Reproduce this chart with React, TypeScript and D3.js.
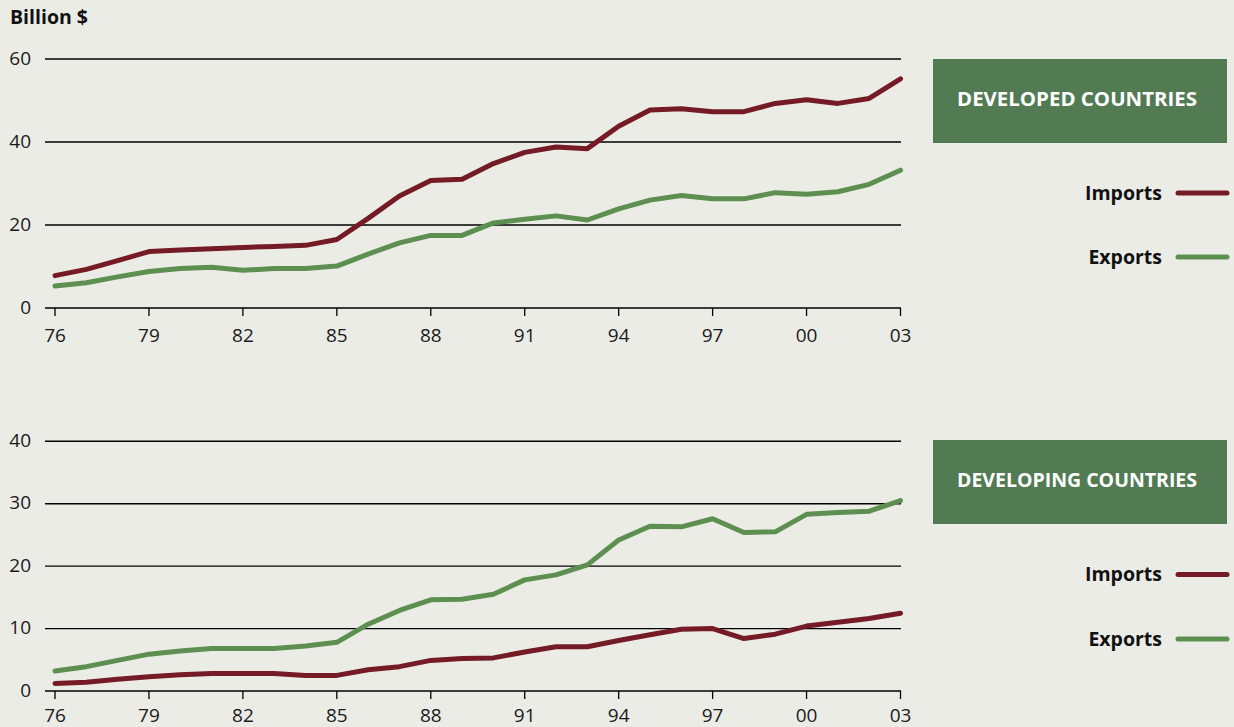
import React from "react";
import * as d3 from "d3";

const years = [1976,1977,1978,1979,1980,1981,1982,1983,1984,1985,1986,1987,1988,1989,1990,1991,1992,1993,1994,1995,1996,1997,1998,1999,2000,2001,2002,2003];
const xTickYears = [1976,1979,1982,1985,1988,1991,1994,1997,2000,2003];

const devImports = [7.8,9.3,11.4,13.6,14.0,14.3,14.6,14.8,15.1,16.5,21.6,27.0,30.7,31.0,34.8,37.5,38.8,38.4,43.8,47.7,48.0,47.3,47.3,49.3,50.2,49.3,50.5,55.2];
const devExports = [5.3,6.1,7.5,8.8,9.5,9.8,9.1,9.5,9.5,10.1,13.0,15.7,17.5,17.5,20.5,21.4,22.2,21.2,23.9,26.0,27.1,26.3,26.3,27.8,27.4,28.0,29.8,33.2];
const dvgImports = [1.2,1.4,1.9,2.3,2.6,2.8,2.8,2.8,2.5,2.5,3.4,3.9,4.9,5.2,5.3,6.25,7.1,7.1,8.1,9.0,9.9,10.0,8.4,9.1,10.4,11.0,11.6,12.45];
const dvgExports = [3.2,3.9,4.9,5.9,6.4,6.8,6.8,6.8,7.2,7.8,10.7,12.9,14.6,14.7,15.5,17.8,18.6,20.2,24.2,26.4,26.3,27.6,25.4,25.5,28.3,28.6,28.8,30.5];

const devTicks = [0,20,40,60];
const dvgTicks = [0,10,20,30,40];

const IMP = "#751b25";
const EXP = "#5d8f50";
const BOX = "#527b54";
const BG = "#ececE7";
const FONT = "'Open Sans', 'Noto Sans', sans-serif";

const fmtYear = (y: number) => String(y % 100).padStart(2, "0");

type PanelProps = {
  top: number;
  bottom: number;
  yMax: number;
  ticks: number[];
  imports: number[];
  exports: number[];
  title: string;
  boxTop: number;
  boxBottom: number;
  impY: number;
  expY: number;
  labelY: number;
};

function Panel(p: PanelProps) {
  const x = d3.scaleLinear().domain([1976, 2003]).range([55, 900.5]);
  const y = d3.scaleLinear().domain([0, p.yMax]).range([p.bottom, p.top]);
  const line = d3.line<number>().x((_, i) => x(years[i])).y((d) => y(d));
  return (
    <g>
      {p.ticks.map((t) => (
        <g key={t}>
          <line x1={45} x2={901} y1={y(t)} y2={y(t)} stroke="#000" strokeWidth={1.4} />
          <text x={31} y={y(t) - 1} dy="0.35em" textAnchor="end" fontSize={19} fill="#1a1a1a" fontFamily={FONT}>{t}</text>
        </g>
      ))}
      {xTickYears.map((yr) => (
        <g key={yr}>
          <line x1={x(yr)} x2={x(yr)} y1={p.bottom} y2={p.bottom + 8} stroke="#000" strokeWidth={1.3} />
          <text x={x(yr)} y={p.labelY} dy="0.35em" textAnchor="middle" fontSize={19} fill="#1a1a1a" fontFamily={FONT}>{fmtYear(yr)}</text>
        </g>
      ))}
      <path d={line(p.exports) || ""} fill="none" stroke={EXP} strokeWidth={5} strokeLinejoin="round" strokeLinecap="round" />
      <path d={line(p.imports) || ""} fill="none" stroke={IMP} strokeWidth={5} strokeLinejoin="round" strokeLinecap="round" />
      <rect x={933} y={p.boxTop} width={294} height={p.boxBottom - p.boxTop} fill={BOX} />
      <text x={1077} y={(p.boxTop + p.boxBottom) / 2 - 2} dy="0.35em" textAnchor="middle" fontSize={19.5} fontWeight="bold" fill="#fff" fontFamily={FONT} textLength={240} lengthAdjust="spacingAndGlyphs">{p.title}</text>
      <text x={1162} y={p.impY} dy="0.35em" textAnchor="end" fontSize={19.5} fontWeight="bold" fill="#111" fontFamily={FONT}>Imports</text>
      <line x1={1178} x2={1227} y1={p.impY} y2={p.impY} stroke={IMP} strokeWidth={5} strokeLinecap="round" />
      <text x={1162} y={p.expY} dy="0.35em" textAnchor="end" fontSize={19.5} fontWeight="bold" fill="#111" fontFamily={FONT}>Exports</text>
      <line x1={1178} x2={1227} y1={p.expY} y2={p.expY} stroke={EXP} strokeWidth={5} strokeLinecap="round" />
    </g>
  );
}

export default function App() {
  return (
    <svg width={1234} height={727} style={{ position: "fixed", left: 0, top: 0, display: "block", background: BG }}>
      <rect x={0} y={0} width={1234} height={727} fill={BG} />
      <text x={10} y={17} dy="0.35em" fontSize={19.5} fontWeight="bold" fill="#111" fontFamily={FONT}>Billion $</text>
      <Panel top={59} bottom={308} yMax={60} ticks={devTicks} imports={devImports} exports={devExports}
        title="DEVELOPED COUNTRIES" boxTop={59} boxBottom={143} impY={193} expY={257} labelY={335} />
      <Panel top={441.3} bottom={691} yMax={40} ticks={dvgTicks} imports={dvgImports} exports={dvgExports}
        title="DEVELOPING COUNTRIES" boxTop={440} boxBottom={524} impY={574.5} expY={639} labelY={715} />
    </svg>
  );
}
